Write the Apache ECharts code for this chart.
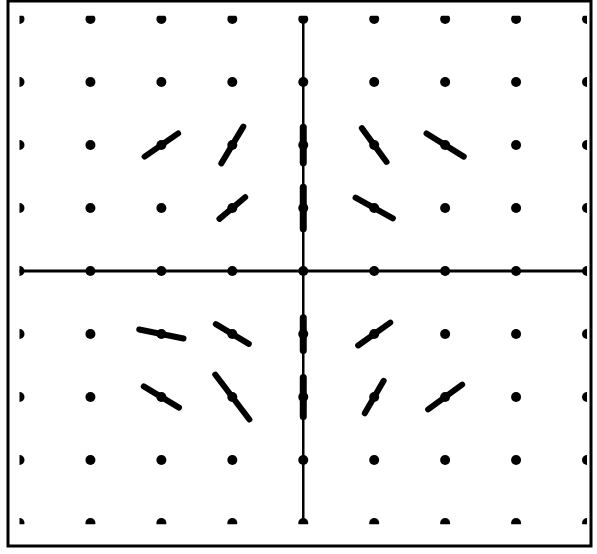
<!DOCTYPE html>
<html><head><meta charset="utf-8">
<script src="https://cdn.jsdelivr.net/npm/echarts@6/dist/echarts.min.js"></script>
<style>html,body{margin:0;padding:0;background:#fff}#c{width:597px;height:554px}</style>
</head><body><div id="c"></div>
<script>
// grid of sample points
const gridXs = [-4, -3, -2, -1, 0, 1, 2, 3, 4];
const gridYs = [-4, -3, -2, -1, 0, 1, 2, 3, 4];
// direction-field segments: centre point, direction angle (deg, data space), half length (data units)
const segX = [-2, -1, 0, 1, 2, -1, 0, 1, -2, -1, 0, 1, -2, -1, 0, 1, 2];
const segY = [2, 2, 2, 2, 2, 1, 1, 1, -1, -1, -1, -1, -2, -2, -2, -2, -2];
const segAngle = [38, 62, 90, -57, -35, 43.5, 90, -32, -13, -34, 90, 38.7, -34, -56, 90, 62.7, 39.4];
const segHalfLen = [0.30, 0.33, 0.28, 0.32, 0.32, 0.25, 0.33, 0.31, 0.32, 0.28, 0.26, 0.29, 0.30, 0.43, 0.31, 0.29, 0.31];
// axis lines through the origin
const xAxisLine = [[-4, 0], [4, 0]];
const yAxisLine = [[0, -4], [0, 4]];
// plotted window (dots on the border are cut off)
const clipX = [-4, 4];
const clipY = [-4.02, 4.05];

const dots = [];
gridXs.forEach(x => gridYs.forEach(y => dots.push([x, y])));
const segData = segX.map((x, i) => [x, segY[i], segAngle[i], segHalfLen[i]]);

const chart = echarts.init(document.getElementById('c'));
chart.setOption({
  animation: false,
  backgroundColor: '#fff',
  grid: { left: 8, right: 6, top: 1, bottom: 8, show: true, borderColor: '#000', borderWidth: 3, backgroundColor: 'transparent' },
  xAxis: { type: 'value', min: -4.162, max: 4.056, show: false },
  yAxis: { type: 'value', min: -4.365, max: 4.286, show: false },
  series: [
    { type: 'line', data: xAxisLine, showSymbol: false, lineStyle: { color: '#000', width: 3 }, z: 1 },
    { type: 'line', data: yAxisLine, showSymbol: false, lineStyle: { color: '#000', width: 2.5 }, z: 1 },
    {
      type: 'custom', data: segData, z: 2,
      renderItem: function (params, api) {
        const x = api.value(0), y = api.value(1), a = api.value(2) * Math.PI / 180, h = api.value(3);
        const dx = h * Math.cos(a), dy = h * Math.sin(a);
        const p1 = api.coord([x - dx, y - dy]);
        const p2 = api.coord([x + dx, y + dy]);
        const w = api.value(2) === 90 ? 7 : 6;
        return { type: 'line', shape: { x1: p1[0], y1: p1[1], x2: p2[0], y2: p2[1] },
                 style: { stroke: '#000', lineWidth: w, lineCap: 'round' } };
      }
    },
    {
      type: 'custom', data: dots, z: 3,
      renderItem: function (params, api) {
        const c = api.coord([api.value(0), api.value(1)]);
        const tl = api.coord([clipX[0], clipY[1]]);
        const br = api.coord([clipX[1], clipY[0]]);
        return {
          type: 'circle', shape: { cx: c[0], cy: c[1], r: 5 }, style: { fill: '#000' },
          clipPath: { type: 'rect', shape: { x: tl[0], y: tl[1], width: br[0] - tl[0], height: br[1] - tl[1] } }
        };
      }
    }
  ]
});
</script></body></html>
